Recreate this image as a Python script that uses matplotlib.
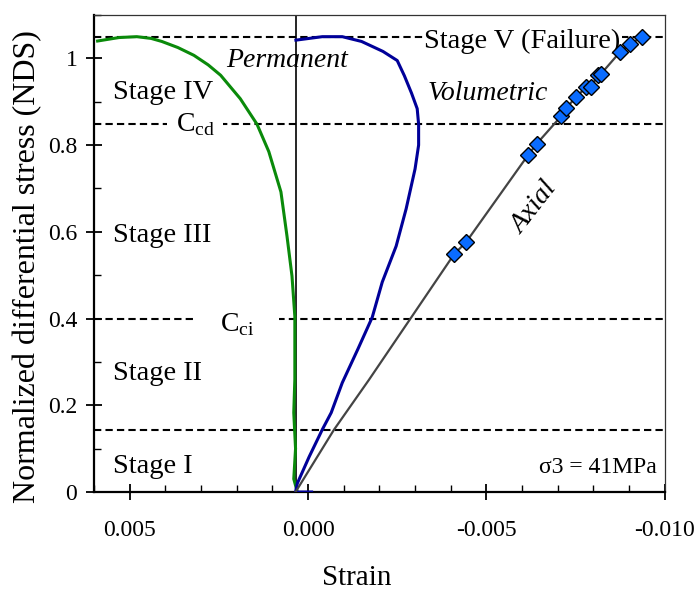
import matplotlib
matplotlib.use('Agg')
import matplotlib.pyplot as plt
from matplotlib.ticker import MultipleLocator

plt.rcParams['font.family'] = ['Liberation Serif', 'DejaVu Serif']
plt.rcParams['mathtext.fontset'] = 'custom'
plt.rcParams['mathtext.rm'] = 'Liberation Serif'
plt.rcParams['axes.unicode_minus'] = False

# permanent (green) strain curve
perm_strain = [0.00030, 0.00040, 0.00035, 0.00040, 0.00037, 0.00037, 0.00045, 0.00059,
               0.00076, 0.00110, 0.00143, 0.00190, 0.00245, 0.00280, 0.00320, 0.00365,
               0.00410, 0.00440, 0.00480, 0.00530, 0.00590]
perm_nds = [0.0, 0.03, 0.10, 0.183, 0.26, 0.405, 0.498, 0.59,
            0.692, 0.785, 0.848, 0.907, 0.961, 0.985, 1.007, 1.025,
            1.039, 1.046, 1.050, 1.048, 1.040]

# volumetric (blue) strain curve
vol_strain = [-0.0001, 0.00035, 0.00030, -0.00003, -0.0004, -0.00065, -0.00096, -0.0014,
              -0.0018, -0.00208, -0.00247, -0.00275, -0.0030, -0.0031, -0.0031, -0.00306,
              -0.0029, -0.0027, -0.0025, -0.0021, -0.0015, -0.00096, -0.0004, 0.00034]
vol_nds = [0.0, 0.0, 0.02, 0.081, 0.144, 0.183, 0.252, 0.33,
           0.403, 0.484, 0.567, 0.653, 0.745, 0.80, 0.848, 0.884,
           0.92, 0.96, 0.995, 1.016, 1.039, 1.05, 1.05, 1.042]

# axial strain line (lower part) and measured points (diamonds)
axial_line_strain = [0.00035, -0.00073, -0.00171]
axial_line_nds = [0.0, 0.144, 0.259]
axial_pts_strain = [-0.0041, -0.00443, -0.00616, -0.00641, -0.0071, -0.00724, -0.00752,
                    -0.0078, -0.00792, -0.00813, -0.0082, -0.00875, -0.00902, -0.00937]
axial_pts_nds = [0.549, 0.576, 0.776, 0.803, 0.867, 0.886, 0.911,
                 0.934, 0.933, 0.961, 0.963, 1.015, 1.032, 1.050]

origin_strain = 0.00034
stage_limits = [0.143, 0.40, 0.848, 1.05]

xticks = [0.005, 0.0, -0.005, -0.010]
xtick_labels = ['0.005', '0.000', '-0.005', '-0.010']
yticks = [0, 0.2, 0.4, 0.6, 0.8, 1.0]
ytick_labels = ['0', '0.2', '0.4', '0.6', '0.8', '1']

fig = plt.figure(figsize=(6.99, 5.95), dpi=100)
ax = fig.add_axes([0.1345, 0.1731, 0.8165, 0.8017])

for lim in stage_limits:
    ax.axhline(lim, color='black', lw=1.5, ls=(0, (3.5, 2)), zorder=2)
ax.axvline(origin_strain, color='black', lw=1.2, zorder=2)

ax.plot(perm_strain, perm_nds, color='#0a8a0a', lw=2.2, zorder=4)
ax.plot(vol_strain, vol_nds, color='#000099', lw=2.2, zorder=4)
ax.plot(axial_line_strain + axial_pts_strain, axial_line_nds + axial_pts_nds,
        color='#444444', lw=1.6, zorder=4)
ax.plot(axial_pts_strain, axial_pts_nds, ls='none', marker='D', ms=8.5,
        mfc='#0a6cff', mec='black', mew=1.0, zorder=5)

ax.set_xlim(0.006, -0.010)
ax.set_ylim(0, 1.1)
ax.set_xticks(xticks)
ax.set_xticklabels(xtick_labels)
ax.set_yticks(yticks)
ax.set_yticklabels(ytick_labels)
ax.xaxis.set_minor_locator(MultipleLocator(0.001))
ax.yaxis.set_minor_locator(MultipleLocator(0.1))
ax.tick_params(which='major', direction='inout', length=12, width=1.3, labelsize=17)
ax.tick_params(which='minor', direction='in', length=5, width=1.0)
ax.tick_params(axis='x', which='major', pad=14)
ax.tick_params(axis='y', which='major', pad=6)

for side in ['left', 'bottom']:
    ax.spines[side].set_linewidth(1.6)
for side in ['top', 'right']:
    ax.spines[side].set_linewidth(0.9)
    ax.spines[side].set_color('#333333')

ax.set_xlabel('Strain', fontsize=21)
ax.xaxis.set_label_coords(0.461, -0.153)
ax.set_ylabel('Normalized differential stress (NDS)', fontsize=23)
ax.yaxis.set_label_coords(-0.09, 0.472)

stage_kw = dict(fontsize=20.5, ha='left', va='baseline', zorder=6)
ax.text(0.00547, 0.907, 'Stage IV', **stage_kw)
ax.text(0.00547, 0.576, 'Stage III', **stage_kw)
ax.text(0.00547, 0.259, 'Stage II', **stage_kw)
ax.text(0.00547, 0.044, 'Stage I', **stage_kw)
ax.text(-0.00326, 1.023, 'Stage V (Failure)', fontsize=20.5, ha='left', va='baseline',
        zorder=3, bbox=dict(boxstyle='square,pad=0.05', fc='white', ec='none'))

ax.text(0.00371, 0.831, r'C$_{\mathrm{cd}}$', fontsize=20, ha='left', va='baseline',
        zorder=3, bbox=dict(boxstyle='square,pad=0.3', fc='white', ec='none'))
ax.text(0.00247, 0.370, r'C$_{\mathrm{ci}}$', fontsize=20, ha='left', va='baseline',
        zorder=3, bbox=dict(boxstyle='square,pad=0.9', fc='white', ec='none'))

ax.text(0.0023, 0.981, 'Permanent', fontsize=20, style='italic', ha='left', va='baseline', zorder=6)
ax.text(-0.00334, 0.903, 'Volumetric', fontsize=20, style='italic', ha='left', va='baseline', zorder=6)
ax.text(-0.00635, 0.655, 'Axial', fontsize=20, style='italic', rotation=52,
        ha='center', va='center', zorder=6)
ax.text(-0.00978, 0.044, 'σ3 = 41MPa', fontsize=17, ha='right', va='baseline', zorder=6)

fig.savefig('out.png', dpi=100)
